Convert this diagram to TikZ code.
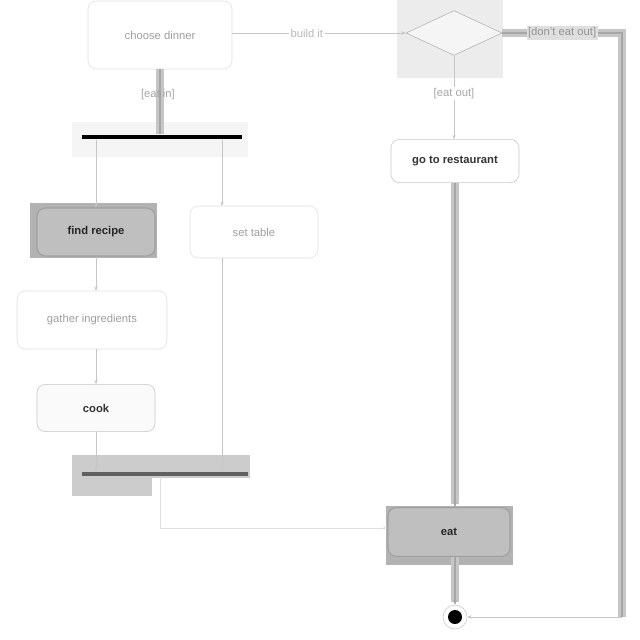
\documentclass[tikz,border=0pt]{standalone}
\usepackage{fontspec}
\setmainfont{Liberation Sans}
\usetikzlibrary{arrows.meta, positioning, calc, shapes.geometric}

\begin{document}
\begin{tikzpicture}[x=0.025cm, y=-0.025cm,
    act/.style={rectangle, rounded corners=6pt, draw=gray!25, fill=white, inner sep=0pt, font=\footnotesize, text=gray!75},
    acth/.style={rectangle, rounded corners=6pt, draw=gray!75, fill=gray!50, inner sep=0pt, line width=0.8pt, font=\footnotesize\bfseries, text=black!85},
    actw/.style={rectangle, rounded corners=6pt, draw=gray!45, fill=gray!4, inner sep=0pt, font=\footnotesize\bfseries, text=black!80},
    bar/.style={rectangle, inner sep=0pt, minimum height=3.5pt},
    flow/.style={draw=gray!45, line width=0.5pt, -{Stealth[length=3pt, width=2.5pt]}},
    bandline/.style={draw=gray!70, line width=0.8pt, preaction={draw=gray!45, line width=5pt}},
    lbl/.style={font=\footnotesize, text=gray!70, inner sep=1pt}]
    \useasboundingbox (0,0) rectangle (640,640);
    % shaded selections
    \fill[gray!15] (397,0) rectangle (503,78);
    \fill[gray!8] (72,122) rectangle (248,157);
    \fill[gray!40] (72,455) rectangle (250,478);
    \fill[gray!40] (72,478) rectangle (152,496);
    \fill[gray!60] (30,203) rectangle (157,258);
    \fill[gray!60] (386,506) rectangle (513,565);
    % nodes
    \node[act, minimum width=3.6cm, minimum height=1.7cm] (choose) at (160,35) {choose dinner};
    \node[diamond, aspect=2.1, draw=gray!60, fill=gray!8, minimum width=2.4cm, minimum height=1.12cm, inner sep=0pt] (dec) at (454,33) {};
    \node[actw, fill=white, minimum width=3.2cm, minimum height=1.08cm] (rest) at (455,161) {go to restaurant};
    \node[bar, fill=black, minimum width=4cm] (fork) at (162,137) {};
    \node[acth, minimum width=2.95cm, minimum height=1.2cm] (recipe) at (96,232) {find recipe};
    \node[act, minimum width=3.2cm, minimum height=1.3cm] (table) at (254,232) {set table};
    \node[act, minimum width=3.75cm, minimum height=1.45cm] (gather) at (92,320) {gather ingredients};
    \node[actw, minimum width=2.95cm, minimum height=1.18cm] (cook) at (96,408) {cook};
    \node[bar, fill=gray!75!black, minimum width=4.15cm] (join) at (165,474) {};
    \node[acth, minimum width=3.05cm, minimum height=1.22cm] (eat) at (449,532) {eat};
    \node[circle, draw=gray!45, fill=white, minimum size=0.6cm, inner sep=0pt] (final) at (455,617) {};
    \node[circle, fill=black, minimum size=0.35cm, inner sep=0pt] (finaldot) at (final) {};
    \coordinate (outcorner) at (622,33);
    \coordinate (outbottom) at (622,617);
    \coordinate (tabin) at (222,206);
    \coordinate (joinbend) at (160,528);
    % eat in
    \draw[bandline] (choose.south) -- (choose.south |- fork.north);
    \node[lbl] at (158,95) {[eat in]};
    % decision
    \draw[flow] (choose.east |- dec.west) -- node[lbl, fill=white, text=gray!55, pos=0.43] {build it} (dec.west);
    \draw[bandline] (dec.east) -- node[lbl, fill=gray!25, text=gray!85] {[don't eat out]} (outcorner) -- (outbottom);
    \draw[flow] (outbottom) -- (final.east);
    \draw[flow] (dec.south) -- node[lbl, fill=white, pos=0.45] {[eat out]} (dec.south |- rest.north);
    \draw[bandline, -{Stealth[length=3pt, width=2.5pt]}] (rest.south) -- (rest.south |- eat.north);
    % fork and join
    \draw[flow] (fork.south -| recipe.north) -- (recipe.north);
    \draw[flow] (fork.south -| tabin) -- (tabin);
    \foreach \a/\b in {recipe/gather, gather/cook} {
        \draw[flow] (\a.south -| recipe.south) -- (recipe.south |- \b.north);
    }
    \draw[flow] (cook.south) -- (cook.south |- join.north);
    \draw[flow] (table.south -| tabin) -- (tabin |- join.north);
    \draw[flow, draw=gray!25] (join.south -| joinbend) -- (joinbend) -- (joinbend -| eat.west);
    \draw[bandline, -{Stealth[length=3pt, width=2.5pt]}] (eat.south -| final) -- (final.north);
\end{tikzpicture}
\end{document}
